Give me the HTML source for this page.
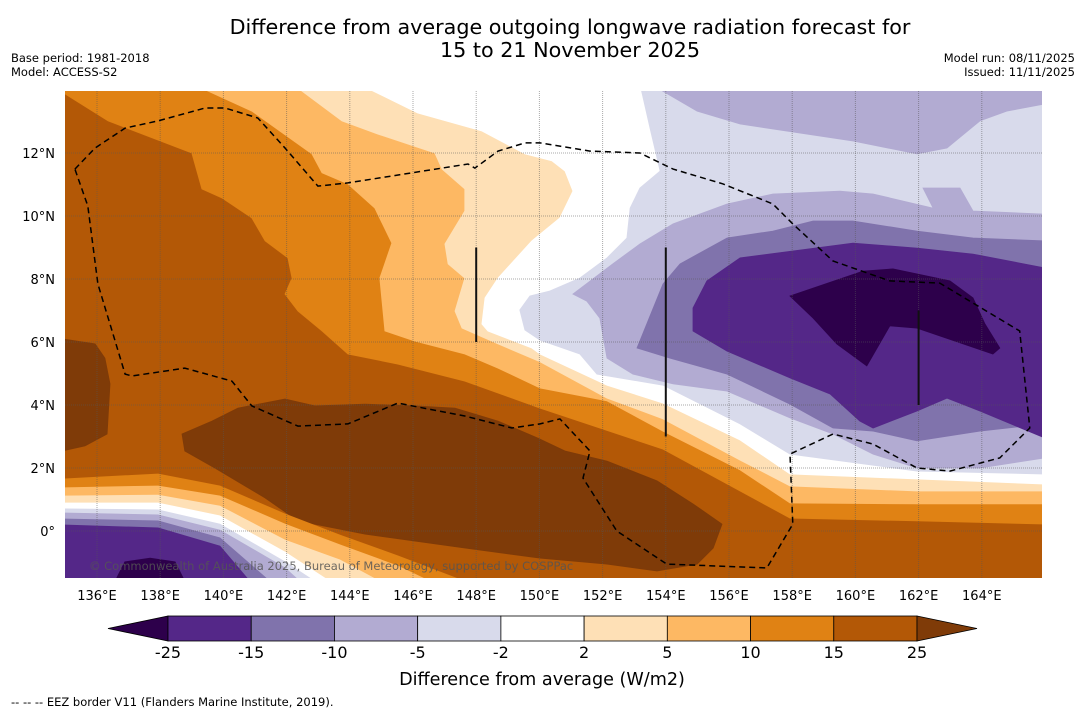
<!DOCTYPE html>
<html><head><meta charset="utf-8"><style>
html,body{margin:0;padding:0;background:#fff;}
svg{display:block;font-family:"DejaVu Sans","Liberation Sans",sans-serif;}
</style></head><body>
<svg id="chart" width="1085" height="713" viewBox="0 0 1085 713" xmlns="http://www.w3.org/2000/svg">
<rect width="1085" height="713" fill="#fff"/>
<text x="570" y="34" text-anchor="middle" font-size="20.7">Difference from average outgoing longwave radiation forecast for</text>
<text x="570" y="57" text-anchor="middle" font-size="20.7">15 to 21 November 2025</text>
<text x="11" y="62" font-size="11.5">Base period: 1981-2018</text>
<text x="11" y="76" font-size="11.5">Model: ACCESS-S2</text>
<text x="1075" y="62" font-size="11.5" text-anchor="end">Model run: 08/11/2025</text>
<text x="1075" y="76" font-size="11.5" text-anchor="end">Issued: 11/11/2025</text>
<defs><clipPath id="mapclip"><rect x="65" y="91" width="977" height="487"/></clipPath></defs>
<g id="map" clip-path="url(#mapclip)"></g>
<g id="axes"></g>
<g id="cbar"></g>
<text x="542" y="685" text-anchor="middle" font-size="17.6">Difference from average (W/m2)</text>
<text x="11" y="706" font-size="11.5">--  --  -- EEZ border V11 (Flanders Marine Institute, 2019).</text>
</svg>
<script>
// ---- data (lon, lat) ----
const lonTicks = [136,138,140,142,144,146,148,150,152,154,156,158,160,162,164];
const latTicks = [0,2,4,6,8,10,12];
const levelLabels = ["-25","-15","-10","-5","-2","2","5","10","15","25"];
const levelColors = ["#542788","#8073ac","#b2abd2","#d8daeb","#ffffff","#fee0b6","#fdb863","#e08214","#b35806"];
const contour15N = [[135,13.87],[136.35,13.02],[139.0,12.0],[139.32,10.86],[139.96,10.57],[140.9,9.94],[141.32,9.21],[142.04,8.67],[142.17,8.03],[141.95,7.52],[142.36,6.98],[143.12,6.35],[143.94,5.62],[145.52,5.30],[147.64,4.76],[150.02,3.90],[153.91,2.60],[157.93,0.41],[161.95,0.32],[166,0.22],[166,14.2],[135,14.2]];
const contour10N = [[139.0,14.2],[140.9,13.33],[142.8,11.97],[143.12,11.37],[143.94,11.02],[144.79,10.25],[145.33,9.14],[144.95,8.03],[145.11,6.35],[146.06,6.03],[147.64,5.62],[148.69,5.17],[150.02,4.54],[152.14,4.13],[153.91,3.17],[156.35,1.94],[157.93,0.89],[161.95,0.86],[166,0.86],[166,14.2]];
const contour5N = [[142.17,14.2],[143.75,13.02],[144.89,12.6],[146.69,12.0],[146.92,11.49],[147.64,10.86],[147.64,10.16],[147.01,9.11],[147.11,8.48],[147.64,8.03],[147.33,6.98],[147.55,6.44],[148.69,5.94],[150.02,5.37],[152.14,4.22],[153.91,3.56],[156.35,2.25],[157.93,1.43],[161.95,1.27],[166,1.27],[166,14.2]];
const contour2N = [[144.26,14.2],[146.15,13.27],[148.18,12.7],[149.54,11.97],[150.4,11.75],[150.81,11.43],[151.06,10.79],[150.65,9.94],[149.76,9.21],[148.69,8.03],[148.28,7.4],[148.18,6.57],[148.37,6.35],[149.76,5.81],[150.02,5.62],[152.14,4.63],[153.91,4.06],[156.35,2.89],[157.93,1.81],[161.95,1.65],[166,1.49],[166,14.2]];
const contourM2N = [[153.18,14.2],[153.5,12.79],[153.82,11.43],[153.18,10.89],[152.87,10.25],[152.77,9.3],[152.14,8.67],[151.28,8.03],[150.33,7.62],[149.7,7.46],[149.38,7.02],[149.54,6.38],[150.02,6.06],[151.28,5.62],[151.82,4.98],[153.91,4.63],[156.35,3.4],[157.93,2.44],[161.95,1.9],[166,1.81],[166,14.2]];
const bandM5Upper = [[153.5,14.2],[154.99,13.33],[156.35,12.92],[159.92,12.38],[161.95,11.97],[162.9,12.16],[163.94,13.02],[164.79,13.33],[166,13.56],[166,14.2]];
const bandM5Main = [[166,10.06],[163.72,10.16],[163.31,10.89],[162.14,10.89],[162.46,10.25],[160.56,10.7],[159.51,10.79],[157.39,10.7],[155.94,10.38],[154.23,9.75],[153.18,9.11],[152.32,8.48],[151.06,7.52],[151.5,7.3],[151.91,6.76],[152.14,5.49],[152.96,4.98],[154.23,4.67],[155.94,4.44],[157.93,3.59],[159.29,3.08],[160.56,2.44],[161.95,2.0],[163.94,2.0],[166,2.32]];
const bandM10 = [[166,9.21],[163.72,9.3],[161.95,9.52],[159.92,9.84],[158.66,9.84],[157.39,9.52],[155.94,9.3],[154.45,8.48],[153.91,7.84],[153.09,5.81],[154.13,5.49],[155.94,4.98],[157.93,4.03],[159.29,3.27],[160.56,3.17],[161.95,2.86],[163.94,3.17],[166,3.4]];
const bandM15 = [[166,8.35],[163.72,8.79],[161.95,8.98],[159.92,9.14],[158.02,8.89],[156.35,8.67],[155.3,7.94],[154.86,7.08],[154.86,6.35],[155.94,5.71],[157.93,4.86],[159.2,4.35],[160.14,3.49],[160.56,3.27],[161.95,3.81],[162.9,4.22],[163.94,3.81],[166,2.95]];
const bandM25 = [[157.93,7.46],[160.24,8.25],[161.19,8.32],[162.99,7.94],[163.72,7.4],[164.1,6.57],[164.57,5.81],[164.35,5.62],[161.95,6.44],[161.09,6.51],[160.36,5.24],[159.41,5.94],[158.66,6.76]];
const patchP25West = [[134.9,6.1],[135.94,5.94],[136.25,5.49],[136.41,4.67],[136.32,3.08],[135.62,2.7],[134.9,2.54]];
const patchP25Central = [[138.69,3.08],[139.64,3.49],[140.46,3.9],[141.95,4.19],[142.9,3.97],[144.48,4.03],[146.06,3.97],[147.33,3.9],[148.69,3.49],[149.95,2.95],[150.81,2.54],[152.14,2.22],[153.72,1.59],[154.86,0.86],[155.78,0.22],[155.5,-0.54],[154.99,-1.05],[153.72,-1.27],[152.14,-1.05],[150.02,-0.86],[147.64,-0.54],[144.48,-0.1],[142.36,0.32],[141.32,1.05],[139.73,2.0],[138.78,2.54]];
const contour15S = [[134.9,1.65],[137.93,1.81],[139.89,1.43],[141.95,0.54],[143.69,-0.13],[145.52,-0.79],[147.64,-1.6],[134.9,-1.6]];
const contour10S = [[134.9,1.37],[137.93,1.43],[139.89,1.11],[141.95,0.22],[143.69,-0.44],[145.52,-1.11],[146.54,-1.6],[134.9,-1.6]];
const contour5S = [[134.9,1.11],[137.93,1.14],[139.89,0.79],[141.95,-0.29],[143.69,-0.92],[144.95,-1.6],[134.9,-1.6]];
const contour2S = [[134.9,0.89],[137.93,0.89],[139.89,0.48],[141.95,-0.67],[143.37,-1.6],[134.9,-1.6]];
const contourM2S = [[134.9,0.7],[137.93,0.67],[139.89,0.22],[141.95,-0.98],[142.9,-1.6],[134.9,-1.6]];
const contourM5S = [[134.9,0.57],[137.93,0.51],[139.89,0.03],[141.95,-1.17],[142.42,-1.6],[134.9,-1.6]];
const contourM10S = [[134.9,0.38],[137.93,0.32],[139.89,-0.22],[141.47,-1.6],[134.9,-1.6]];
const contourM15S = [[134.9,0.19],[137.93,0.1],[139.89,-0.48],[140.84,-1.6],[134.9,-1.6]];
const contourM25S = [[136.57,-1.6],[136.88,-0.98],[137.68,-0.86],[138.47,-0.98],[138.78,-1.6]];
const eezBorder = [[135.3,11.49],[135.94,12.16],[136.89,12.79],[137.93,13.02],[139.42,13.43],[140.05,13.43],[141.09,13.11],[141.95,12.16],[142.99,10.95],[143.94,11.05],[147.74,11.65],[147.96,11.52],[148.69,12.06],[149.54,12.32],[150.02,12.32],[151.6,12.06],[153.18,12.0],[154.23,11.49],[155.81,11.02],[157.39,10.38],[158.02,9.75],[159.29,8.57],[161.09,7.94],[162.67,7.87],[165.2,6.35],[165.52,3.27],[164.57,2.32],[162.99,1.9],[161.95,2.0],[160.56,2.76],[159.29,3.08],[157.93,2.44],[158.02,0.22],[157.2,-1.17],[154.03,-1.05],[152.45,0.0],[151.38,1.68],[151.6,2.54],[150.65,3.56],[150.02,3.4],[149.13,3.27],[147.64,3.65],[145.52,4.06],[143.94,3.4],[142.36,3.33],[140.9,3.97],[140.27,4.76],[138.78,5.17],[137.11,4.92],[136.89,4.98],[136.03,7.84],[135.71,10.32],[135.3,11.49]];
const stormTracks = [[148,9,6],[154,9,3],[162,7,4]];

// ---- axis functions ----
const xS = lon => 65.4 + (lon - 135) * 31.6;
const yS = lat => 531 - lat * 31.5;
const NS = "http://www.w3.org/2000/svg";
const map = document.getElementById('map');
const axes = document.getElementById('axes');
const cbar = document.getElementById('cbar');
function mk(tag, attrs, parent){const e=document.createElementNS(NS,tag);for(const k in attrs)e.setAttribute(k,attrs[k]);parent.appendChild(e);return e;}
const ptsStr = arr => arr.map(p => xS(p[0]).toFixed(1)+','+yS(p[1]).toFixed(1)).join(' ');

let base = mk('rect',{x:65,y:91,width:977,height:487,fill:'#b35806'},map);



const layers = [
 ['band-10-to-15-north', contour15N, '#e08214'],
 ['band-5-to-10-north', contour10N, '#fdb863'],
 ['band-2-to-5-north', contour5N, '#fee0b6'],
 ['band-neutral-north', contour2N, '#ffffff'],
 ['band-minus5-to-minus2', contourM2N, '#d8daeb'],
 ['band-minus10-to-minus5-upper', bandM5Upper, '#b2abd2'],
 ['band-minus10-to-minus5', bandM5Main, '#b2abd2'],
 ['band-minus15-to-minus10', bandM10, '#8073ac'],
 ['band-minus25-to-minus15', bandM15, '#542788'],
 ['band-below-minus25', bandM25, '#2d004b'],
 ['band-above-25-west', patchP25West, '#7f3b08'],
 ['band-above-25-central', patchP25Central, '#7f3b08'],
 ['band-10-to-15-south', contour15S, '#e08214'],
 ['band-5-to-10-south', contour10S, '#fdb863'],
 ['band-2-to-5-south', contour5S, '#fee0b6'],
 ['band-neutral-south', contour2S, '#ffffff'],
 ['band-minus5-to-minus2-south', contourM2S, '#d8daeb'],
 ['band-minus10-to-minus5-south', contourM5S, '#b2abd2'],
 ['band-minus15-to-minus10-south', contourM10S, '#8073ac'],
 ['band-minus25-to-minus15-south', contourM15S, '#542788'],
 ['band-below-minus25-south', contourM25S, '#2d004b']
];
layers.forEach(l => {
  const p = mk('polygon',{points:ptsStr(l[1]),fill:l[2],stroke:l[2],'stroke-width':0.8},map);
  
  
});

lonTicks.forEach(lon => {
  const g = mk('line',{x1:xS(lon),x2:xS(lon),y1:91,y2:578,stroke:'#555','stroke-opacity':0.5,'stroke-width':1,'stroke-dasharray':'1,1'},map);
  
  
});
latTicks.forEach(lat => {
  const g = mk('line',{x1:65,x2:1042,y1:yS(lat),y2:yS(lat),stroke:'#555','stroke-opacity':0.5,'stroke-width':1,'stroke-dasharray':'1,1'},map);
  
  
});

const eez = mk('polyline',{points:ptsStr(eezBorder),fill:'none',stroke:'#000','stroke-width':1.5,'stroke-dasharray':'6,4'},map);



stormTracks.forEach(t => {
  const l = mk('line',{x1:xS(t[0]),x2:xS(t[0]),y1:yS(t[1]),y2:yS(t[2]),stroke:'#111','stroke-width':2},map);
  
  
});

const cp = mk('text',{x:89,y:570,'font-size':11.5,fill:'#555','fill-opacity':0.85},map);
cp.textContent = '© Commonwealth of Australia 2025, Bureau of Meteorology, supported by COSPPac';



lonTicks.forEach(lon => {
  const t = mk('text',{x:xS(lon),y:600,'font-size':13,'text-anchor':'middle'},axes);
  t.textContent = lon + '°E';
  
  
});
latTicks.forEach(lat => {
  const t = mk('text',{x:55,y:yS(lat)+5,'font-size':13,'text-anchor':'end'},axes);
  t.textContent = lat === 0 ? '0°' : lat + '°N';
  
  
});

const cbX0 = 168, cbW = (917 - 168) / levelColors.length, cbY = 616, cbH = 25;
let tl = mk('polygon',{points:`108,${cbY+cbH/2} ${cbX0},${cbY} ${cbX0},${cbY+cbH}`,fill:'#2d004b',stroke:'#000','stroke-width':0.8},cbar);


levelColors.forEach((c,i) => {
  const r = mk('rect',{x:cbX0+i*cbW,y:cbY,width:cbW,height:cbH,fill:c,stroke:'#000','stroke-width':0.8},cbar);
  
  
});
let tr = mk('polygon',{points:`917,${cbY} 977,${cbY+cbH/2} 917,${cbY+cbH}`,fill:'#7f3b08',stroke:'#000','stroke-width':0.8},cbar);


levelLabels.forEach((s,i) => {
  const t = mk('text',{x:cbX0+i*cbW,y:658,'font-size':16,'text-anchor':'middle'},cbar);
  t.textContent = s;
  
  
});
</script>
</body></html>
